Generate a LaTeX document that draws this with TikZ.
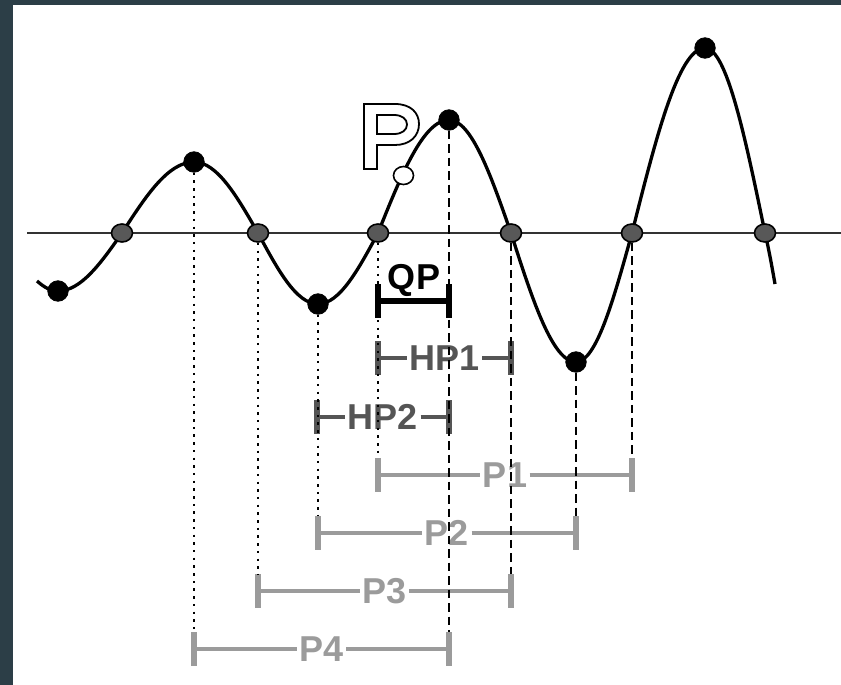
\documentclass[tikz,border=0pt]{standalone}
\usepackage{fontspec}
\setmainfont{Liberation Sans}
\usetikzlibrary{calc,shapes.geometric}
\definecolor{framec}{RGB}{44,62,71}
\definecolor{hpgrey}{RGB}{85,85,85}
\definecolor{pgrey}{RGB}{155,155,155}
\definecolor{dotgrey}{RGB}{88,88,88}
\definecolor{axisc}{RGB}{50,50,50}
\tikzset{
  lbl/.style={font=\fontsize{36}{40}\selectfont\bfseries, inner xsep=2.5pt, inner ysep=0pt},
  qplabel/.style={lbl,text=black},
  qpline/.style={draw=black, line width=5.5pt},
  qptick/.style={draw=black, line width=6pt},
  hplabel/.style={lbl,text=hpgrey},
  hpline/.style={draw=hpgrey, line width=4pt},
  hptick/.style={draw=hpgrey, line width=5.5pt},
  plabel/.style={lbl,text=pgrey},
  pline/.style={draw=pgrey, line width=4.6pt},
  ptick/.style={draw=pgrey, line width=5.5pt},
  bdot/.style={circle, fill=black, draw=black, line width=0.8pt, minimum size=20.5pt, inner sep=0pt},
  gdot/.style={ellipse, fill=dotgrey, draw=black, line width=1.6pt, minimum width=21pt, minimum height=18pt, inner sep=0pt},
  odot/.style={ellipse, fill=white, draw=black, line width=1.6pt, minimum width=20pt, minimum height=18pt, inner sep=0pt},
  curve/.style={draw=black, line width=3.3pt},
  axisline/.style={draw=axisc, line width=2.3pt},
  dotv/.style={draw=black, line width=2.5pt, dash pattern=on 2.5pt off 5.2pt},
  dashv/.style={draw=black, line width=2.6pt, dash pattern=on 8.5pt off 5pt},
}
% #1 style prefix, #2 name, #3 x1, #4 x2, #5 y, #6 label
\newcommand\mybar[6]{%
  \coordinate (#2L) at (#3,#5);
  \coordinate (#2R) at (#4,#5);
  \coordinate (#2Lt) at (#3,#5-17);
  \coordinate (#2Lb) at (#3,#5+17);
  \coordinate (#2Rt) at (#4,#5-17);
  \coordinate (#2Rb) at (#4,#5+17);
  \node[#1label] (#2) at ($(#2L)!0.5!(#2R)$) {#6};
  \draw[#1line] (#2L) -- (#2) -- (#2R);
  \draw[#1tick] (#2Lt) -- (#2Lb);
  \draw[#1tick] (#2Rt) -- (#2Rb);
}
\begin{document}
\begin{tikzpicture}[x=1pt,y=-1pt]
\fill[white] (0,0) rectangle (841,685);
\fill[framec] (0,0) rectangle (841,4.7);
\fill[framec] (0,0) rectangle (12.7,685);
\useasboundingbox (0,0) rectangle (841,685);

% axis
\coordinate (axL) at (27,233);
\coordinate (axR) at (841,233);
\draw[axisline] (axL) -- (axR);

% key points
\coordinate (ce0) at (58,291);
\coordinate (cz1) at (122,233);
\coordinate (ce1) at (194,162);
\coordinate (cz2) at (258,233);
\coordinate (ce2) at (318,304);
\coordinate (cz3) at (378,233);
\coordinate (ce3) at (449,120);
\coordinate (cz4) at (511,233);
\coordinate (ce4) at (576,362);
\coordinate (cz5) at (632,233);
\coordinate (ce5) at (705,48);
\coordinate (cz6) at (765,233);
\coordinate (cs) at (37,281);
\coordinate (ce) at (775,284);

% bars
\coordinate (QPL) at (378,301);
\coordinate (QPR) at (449,301);
\coordinate (QPLt) at (378,284);
\coordinate (QPLb) at (378,318);
\coordinate (QPRt) at (449,284);
\coordinate (QPRb) at (449,318);
\draw[qpline] (QPL) -- (QPR);
\draw[qptick] (QPLt) -- (QPLb);
\draw[qptick] (QPRt) -- (QPRb);
\node[qplabel, anchor=base] (QP) at (414,289) {QP};

\mybar{hp}{HPa}{378}{511}{358}{HP1}
\mybar{hp}{HPb}{317}{449}{417}{HP2}
\mybar{p}{Pa}{378}{632}{475}{P1}
\mybar{p}{Pb}{318}{576}{533}{P2}
\mybar{p}{Pc}{258}{511}{591}{P3}
\mybar{p}{Pd}{194}{449}{649}{P4}

% wave
\draw[curve] (cs) .. controls (45,288) and (51,291) .. (ce0)
  .. controls (81.2,291) and (101.1,262.7) .. (cz1)
  .. controls (145.5,196.6) and (167.9,162) .. (ce1)
  .. controls (217.2,162) and (237.1,196.6) .. (cz2)
  .. controls (277.6,269.4) and (296.3,304) .. (ce2)
  .. controls (339.7,304) and (358.4,269.4) .. (cz3)
  .. controls (401.2,175.1) and (423.3,120) .. (ce3)
  .. controls (471.4,120) and (490.8,175.1) .. (cz4)
  .. controls (532.2,299.1) and (552.5,362) .. (ce4)
  .. controls (596.3,362) and (613.7,299.1) .. (cz5)
  .. controls (655.8,138.2) and (678.6,48) .. (ce5)
  .. controls (726.7,48) and (745.4,138.2) .. (cz6)
  .. controls (769,250) and (772,267) .. (ce);

% dots
\node[bdot] (e0) at (ce0) {};
\node[gdot] (z1) at (cz1) {};
\node[bdot] (e1) at (ce1) {};
\node[gdot] (z2) at (cz2) {};
\node[bdot] (e2) at (ce2) {};
\node[gdot] (z3) at (cz3) {};
\node[bdot] (e3) at (ce3) {};
\node[gdot] (z4) at (cz4) {};
\node[bdot] (e4) at (ce4) {};
\node[gdot] (z5) at (cz5) {};
\node[bdot] (e5) at (ce5) {};
\node[gdot] (z6) at (cz6) {};
\node[odot] (pp) at (403.5,175.5) {};

% vertical guides
\draw[dotv] (e1) -- (PdLt);
\draw[dotv] (z2) -- (PcLt);
\draw[dotv] (e2) -- (PbLt);
\draw[dotv] (z3) -- (PaLt);
\draw[dashv] (e3) -- (PdRt);
\draw[dashv] (z4) -- (PcRt);
\draw[dashv] (e4) -- (PbRt);
\draw[dashv] (z5) -- (PaRt);

% outlined letter P
\draw[black, line width=1.8pt, fill=white, even odd rule]
  (364,169) -- (364,104) -- (395,104) .. controls (411,104) and (419,113) .. (419,124)
  .. controls (419,136) and (410,145) .. (395,145) -- (377,145) -- (377,169) -- cycle
  (377,115) -- (394,115) .. controls (402,115) and (407,119) .. (407,124.5)
  .. controls (407,130) and (402,134) .. (394,134) -- (377,134) -- cycle;
\end{tikzpicture}
\end{document}
